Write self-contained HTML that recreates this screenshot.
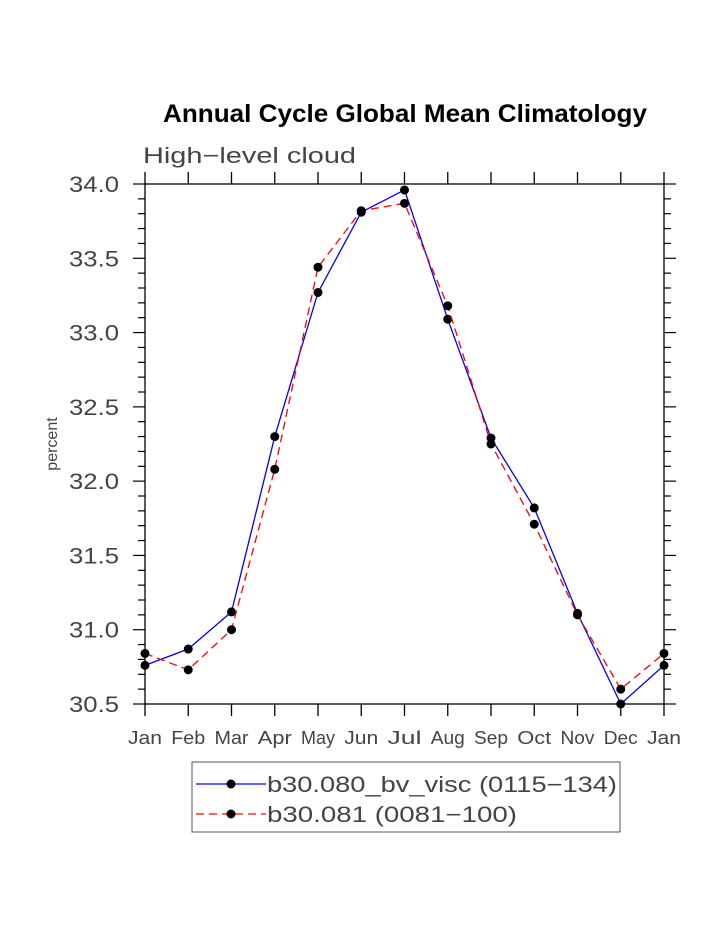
<!DOCTYPE html>
<html><head><meta charset="utf-8"><style>
body{margin:0;background:#fff;width:723px;height:935px;overflow:hidden}
text{font-family:"Liberation Sans",sans-serif}
</style></head><body>
<svg id="chart" width="723" height="935" xmlns="http://www.w3.org/2000/svg">
<text x="163" y="122" font-size="25" font-weight="bold" textLength="484" lengthAdjust="spacingAndGlyphs">Annual Cycle Global Mean Climatology</text>
<text x="143" y="163" font-size="22" fill="#444" textLength="213" lengthAdjust="spacingAndGlyphs">High−level cloud</text>
<text transform="translate(57,444) rotate(-90)" text-anchor="middle" font-size="16" fill="#444">percent</text>
<g id="axes"></g>
<g id="series"></g>
<g>
<rect x="192" y="762" width="428" height="70" fill="none" stroke="#555" stroke-width="1"/>
<line x1="196" y1="784" x2="266" y2="784" stroke="#0000ff" stroke-width="1.3"/>
<circle cx="231" cy="784" r="4.5" fill="#000"/>
<text x="267" y="792" font-size="22" fill="#444" textLength="350" lengthAdjust="spacingAndGlyphs">b30.080_bv_visc (0115−134)</text>
<line x1="196" y1="814" x2="266" y2="814" stroke="#ff0000" stroke-width="1.3" stroke-dasharray="8,5"/>
<circle cx="231" cy="814" r="4.5" fill="#000"/>
<text x="267" y="822" font-size="22" fill="#444" textLength="250" lengthAdjust="spacingAndGlyphs">b30.081 (0081−100)</text>
</g>
</svg>
<script>
const months=["Jan","Feb","Mar","Apr","May","Jun","Jul","Aug","Sep","Oct","Nov","Dec","Jan"];
const seriesA=[30.76,30.87,31.12,32.30,33.27,33.81,33.96,33.09,32.29,31.82,31.11,30.50,30.76];
const seriesB=[30.84,30.73,31.00,32.08,33.44,33.82,33.87,33.18,32.25,31.71,31.10,30.60,30.84];
const yTicks=["30.5","31.0","31.5","32.0","32.5","33.0","33.5","34.0"];
const X0=145,X1=664,Y0=704,Y1=184,ymin=30.5,ymax=34.0;
const NS="http://www.w3.org/2000/svg";
const xs=i=>X0+(X1-X0)*i/(months.length-1);
const ys=v=>Y0-(v-ymin)/(ymax-ymin)*(Y0-Y1);
function mk(t,a,p){const e=document.createElementNS(NS,t);for(const k in a)e.setAttribute(k,a[k]);p.appendChild(e);return e;}
const ax=document.getElementById('axes');
const frame=mk('rect',{x:X0,y:Y1,width:X1-X0,height:Y0-Y1,fill:'none',stroke:'#000','stroke-width':1.3},ax);


months.forEach((m,i)=>{
  const x=xs(i);
  mk('line',{x1:x,y1:Y0,x2:x,y2:Y0+12,stroke:'#000','stroke-width':1.3},ax);
  mk('line',{x1:x,y1:Y1,x2:x,y2:Y1-12,stroke:'#000','stroke-width':1.3},ax);
  const t=mk('text',{x:x,y:744,'text-anchor':'middle','font-size':18,fill:'#444',textLength:(m.length===3?34:30),lengthAdjust:'spacingAndGlyphs'},ax);
  t.textContent=m;
  
  
});
for(let v=ymin;v<=ymax+1e-6;v+=0.1){
  const y=ys(v);const major=Math.abs(v*2-Math.round(v*2))<1e-6;const L=major?12:7;
  mk('line',{x1:X0-L,y1:y,x2:X0,y2:y,stroke:'#000','stroke-width':1.2},ax);
  mk('line',{x1:X1,y1:y,x2:X1+L,y2:y,stroke:'#000','stroke-width':1.2},ax);
}
yTicks.forEach(s=>{
  const t=mk('text',{x:119,y:ys(parseFloat(s))+8,'text-anchor':'end','font-size':22,fill:'#444',textLength:50,lengthAdjust:'spacingAndGlyphs'},ax);
  t.textContent=s;
  
  
});
const sg=document.getElementById('series');
function draw(vals,color,dash,name){
  const p=mk('polyline',{points:vals.map((v,i)=>xs(i)+','+ys(v)).join(' '),fill:'none',stroke:color,'stroke-width':1.3,'stroke-dasharray':dash},sg);
  
  
  vals.forEach((v,i)=>{
    const c=mk('circle',{cx:xs(i),cy:ys(v),r:4.5,fill:'#000'},sg);
    
    
  });
}
draw(seriesA,'#0000ff','none','b30-080-series');
draw(seriesB,'#ff0000','8,5','b30-081-series');
</script>
</body></html>
